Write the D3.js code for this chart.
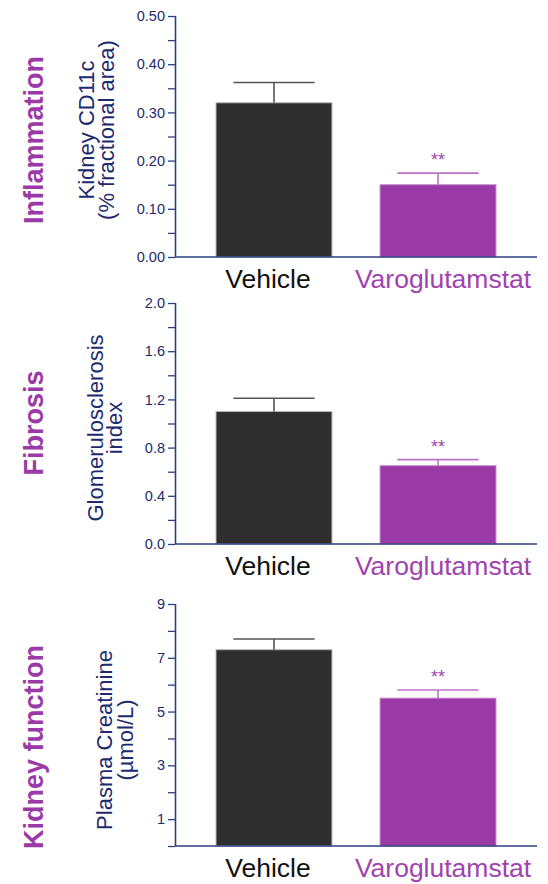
<!DOCTYPE html>
<html>
<head>
<meta charset="utf-8">
<script src="https://cdn.jsdelivr.net/npm/d3@7"></script>
<style>
  html, body { margin: 0; padding: 0; background: #fff; }
  svg { display: block; font-family: "Liberation Sans", Arial, Helvetica, sans-serif; }
</style>
</head>
<body>
<svg id="chart" width="548" height="884"></svg>
<script>
// Treatment groups shown on every panel
const groups = ["Vehicle", "Varoglutamstat"];

// Kidney CD11c (% fractional area): mean and SEM
const cd11cMean = [0.32, 0.15];
const cd11cSem = [0.042, 0.024];
const cd11cTicks = [0, 0.1, 0.2, 0.3, 0.4, 0.5];
const cd11cMinor = [0.05, 0.15, 0.25, 0.35, 0.45];

// Glomerulosclerosis index: mean and SEM
const glomMean = [1.10, 0.65];
const glomSem = [0.11, 0.05];
const glomTicks = [0, 0.4, 0.8, 1.2, 1.6, 2.0];
const glomMinor = [0.2, 0.6, 1.0, 1.4, 1.8];

// Plasma creatinine (µmol/L): mean and SEM
const creatMean = [7.3, 5.5];
const creatSem = [0.4, 0.3];
const creatTicks = [1, 3, 5, 7, 9];
const creatMinor = [0, 2, 4, 6, 8];

// Significance marks above the treated bar
const signif = ["", "**"];

const AXIS = "#2f3f7e";
const TICK_TEXT = "#1c2b6e";
const PURPLE = "#9a3aa6";
const barFill = ["#2e2e2e", PURPLE];
const barEdge = ["#b8b8b8", "#c88fd2"];
const errColor = ["#555555", "#bb72c6"];
const labelColor = ["#111111", "#a043b0"];

const svg = d3.select("#chart");

const panels = [
  {
    section: "Inflammation", sectionY: 140,
    titleLines: ["Kidney CD11c", "(% fractional area)"], titleY: 130, titleX: [94, 114],
    mean: cd11cMean, sem: cd11cSem, ticks: cd11cTicks, minor: cd11cMinor,
    domain: [0, 0.5], fmt: d3.format(".2f"), top: 16, bottom: 257
  },
  {
    section: "Fibrosis", sectionY: 423,
    titleLines: ["Glomerulosclerosis", "index"], titleY: 428, titleX: [103, 122],
    mean: glomMean, sem: glomSem, ticks: glomTicks, minor: glomMinor,
    domain: [0, 2], fmt: d3.format(".1f"), top: 303, bottom: 544
  },
  {
    section: "Kidney function", sectionY: 747,
    titleLines: ["Plasma Creatinine", "(µmol/L)"], titleY: 740, titleX: [112, 133],
    mean: creatMean, sem: creatSem, ticks: creatTicks, minor: creatMinor,
    domain: [0, 9], fmt: d3.format("d"), top: 604, bottom: 846
  }
];

const xLeft = 175, xRight = 537;
const x = d3.scaleBand()
  .domain(groups)
  .range([xLeft, xRight])
  .paddingInner(0.293)
  .paddingOuter(0.25);

panels.forEach(p => {
  const g = svg.append("g");
  const y = d3.scaleLinear().domain(p.domain).range([p.bottom, p.top]);

  // Section heading, rotated
  g.append("text")
    .attr("transform", `translate(43,${p.sectionY}) rotate(-90)`)
    .attr("text-anchor", "middle")
    .attr("font-size", 27)
    .attr("font-weight", "bold")
    .attr("fill", PURPLE)
    .text(p.section);

  // Y-axis title, two lines
  p.titleLines.forEach((line, i) => {
    g.append("text")
      .attr("transform", `translate(${p.titleX[i]},${p.titleY}) rotate(-90)`)
      .attr("text-anchor", "middle")
      .attr("font-size", 22)
      .attr("fill", TICK_TEXT)
      .text(line);
  });

  // Bars
  g.selectAll("rect.bar")
    .data(groups)
    .join("rect")
    .attr("class", "bar")
    .attr("x", d => x(d))
    .attr("width", x.bandwidth())
    .attr("y", (d, i) => y(p.mean[i]))
    .attr("height", (d, i) => y(0) - y(p.mean[i]))
    .attr("fill", (d, i) => barFill[i])
    .attr("stroke", (d, i) => barEdge[i])
    .attr("stroke-width", 1);

  // Error bars (upper SEM)
  const capHalf = x.bandwidth() * 0.35;
  groups.forEach((d, i) => {
    const cx = x(d) + x.bandwidth() / 2;
    const yTop = y(p.mean[i] + p.sem[i]);
    g.append("line")
      .attr("x1", cx).attr("x2", cx)
      .attr("y1", y(p.mean[i])).attr("y2", yTop)
      .attr("stroke", errColor[i]).attr("stroke-width", 1.6);
    g.append("line")
      .attr("x1", cx - capHalf).attr("x2", cx + capHalf)
      .attr("y1", yTop).attr("y2", yTop)
      .attr("stroke", errColor[i]).attr("stroke-width", 1.6);
    if (signif[i]) {
      g.append("text")
        .attr("x", cx)
        .attr("y", yTop - 7)
        .attr("text-anchor", "middle")
        .attr("font-size", 18)
        .attr("fill", "#a048b2")
        .text(signif[i]);
    }
  });

  // Major y ticks with labels
  const axis = g.append("g")
    .attr("transform", `translate(${xLeft},0)`)
    .call(d3.axisLeft(y).tickValues(p.ticks).tickFormat(p.fmt).tickSize(7).tickSizeOuter(0).tickPadding(3));
  axis.select(".domain").attr("stroke", AXIS).attr("stroke-width", 1.6)
    .attr("d", `M0.5,${y(p.domain[1])}V${y(0)}`);
  axis.selectAll(".tick line").attr("stroke", AXIS).attr("stroke-width", 1.3);
  axis.selectAll(".tick text").attr("fill", TICK_TEXT).attr("font-size", 14.5)
    .attr("font-family", "'Liberation Sans', Arial, sans-serif");

  // Minor y ticks
  const minorAxis = g.append("g")
    .attr("transform", `translate(${xLeft},0)`)
    .call(d3.axisLeft(y).tickValues(p.minor).tickFormat("").tickSize(7).tickSizeOuter(0));
  minorAxis.select(".domain").remove();
  minorAxis.selectAll(".tick line").attr("stroke", AXIS).attr("stroke-width", 1.3);

  // X baseline
  g.append("line")
    .attr("x1", xLeft).attr("x2", xRight)
    .attr("y1", y(0)).attr("y2", y(0))
    .attr("stroke", AXIS).attr("stroke-width", 1.6);

  // Group labels
  g.selectAll("text.grp")
    .data(groups)
    .join("text")
    .attr("class", "grp")
    .attr("x", (d, i) => x(d) + x.bandwidth() / 2 + (i === 0 ? -6 : 5))
    .attr("y", y(0) + 31)
    .attr("text-anchor", "middle")
    .attr("font-size", 26.5)
    .attr("fill", (d, i) => labelColor[i])
    .text(d => d);
});
</script>
</body>
</html>
